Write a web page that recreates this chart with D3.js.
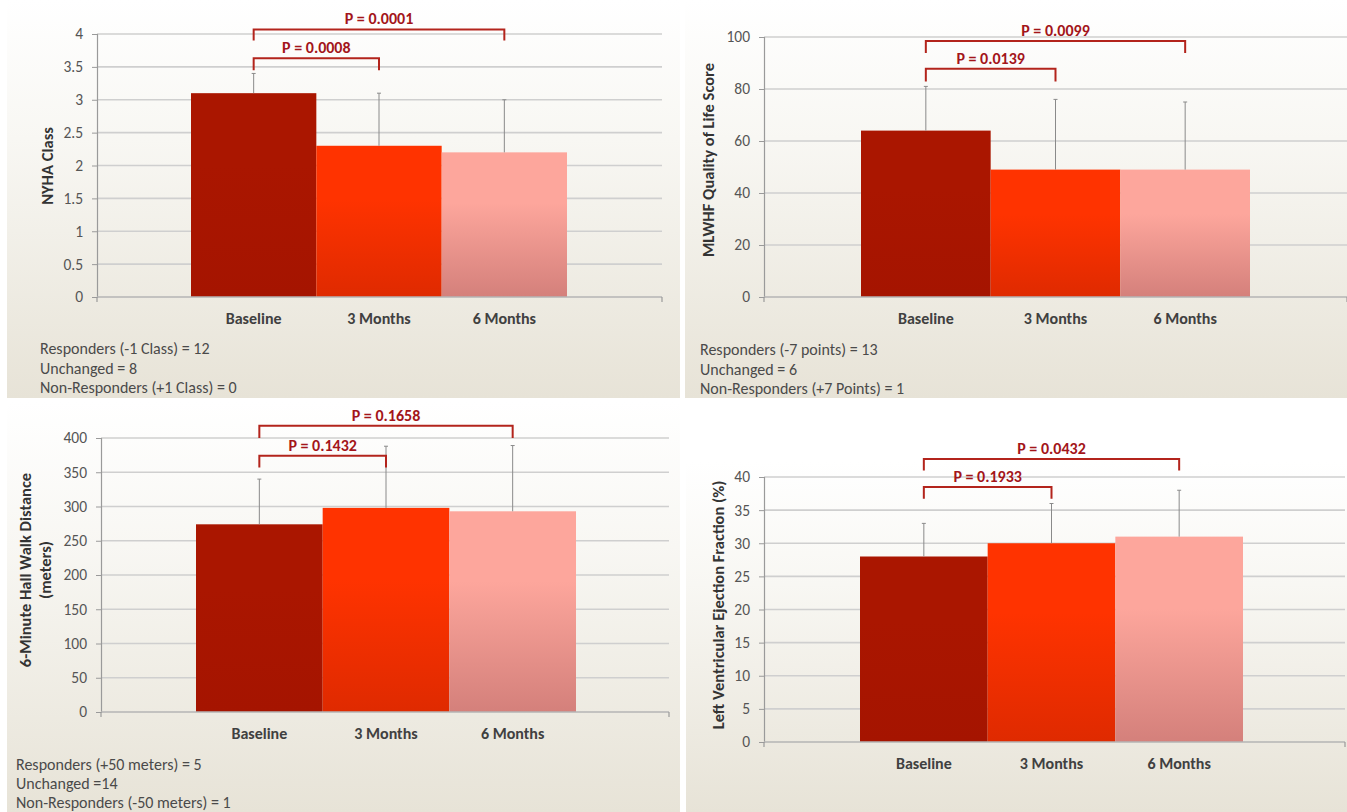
<!DOCTYPE html>
<html>
<head>
<meta charset="utf-8">
<script src="https://cdn.jsdelivr.net/npm/d3@7"></script>
<style>
  html, body { margin: 0; padding: 0; background: #ffffff; }
  svg { display: block; font-family: Carlito, Calibri, Lato, "Open Sans", sans-serif; }
</style>
</head>
<body>
<svg id="chart" width="1347" height="812"></svg>
<script>
// ---------------- DATA ----------------
const categories = ["Baseline", "3 Months", "6 Months"];

const nyhaValues = [3.1, 2.3, 2.2];
const nyhaErrorTop = [3.4, 3.1, 3.0];
const nyhaTicks = [0, 0.5, 1, 1.5, 2, 2.5, 3, 3.5, 4];
const nyhaPLabels = ["P = 0.0008", "P = 0.0001"];
const nyhaBracketLevels = [[3.45, 3.63], [3.9, 4.07]];
const nyhaNotes = ["Responders (-1 Class) = 12", "Unchanged = 8", "Non-Responders (+1 Class) = 0"];

const mlwhfValues = [64, 49, 49];
const mlwhfErrorTop = [81, 76, 75];
const mlwhfTicks = [0, 20, 40, 60, 80, 100];
const mlwhfPLabels = ["P = 0.0139", "P = 0.0099"];
const mlwhfBracketLevels = [[82.9, 87.8], [93.8, 98.5]];
const mlwhfNotes = ["Responders (-7 points) = 13", "Unchanged = 6", "Non-Responders (+7 Points) = 1"];

const walkValues = [274, 298, 293];
const walkErrorTop = [340, 388, 389];
const walkTicks = [0, 50, 100, 150, 200, 250, 300, 350, 400];
const walkPLabels = ["P = 0.1432", "P = 0.1658"];
const walkBracketLevels = [[357, 374], [400, 418]];
const walkNotes = ["Responders (+50 meters) = 5", "Unchanged =14", "Non-Responders (-50 meters) = 1"];

const lvefValues = [28, 30, 31];
const lvefErrorTop = [33, 36, 38];
const lvefTicks = [0, 5, 10, 15, 20, 25, 30, 35, 40];
const lvefPLabels = ["P = 0.1933", "P = 0.0432"];
const lvefBracketLevels = [[36.7, 38.5], [41, 42.7]];
const lvefNotes = [];

// ---------------- DRAWING ----------------
const svg = d3.select("#chart");
const defs = svg.append("defs");

const bg = defs.append("linearGradient").attr("id", "bgGrad")
  .attr("x1", 0).attr("y1", 0).attr("x2", 0).attr("y2", 1);
bg.append("stop").attr("offset", "0%").attr("stop-color", "#ffffff");
bg.append("stop").attr("offset", "35%").attr("stop-color", "#f8f7f3");
bg.append("stop").attr("offset", "100%").attr("stop-color", "#e7e3d7");

const barGrads = [
  ["#aa1600", "#a51400"],
  ["#ff3300", "#df2a00"],
  ["#fda69c", "#d4807b"]
];
barGrads.forEach((c, i) => {
  const g = defs.append("linearGradient").attr("id", "barGrad" + i)
    .attr("x1", 0).attr("y1", 0).attr("x2", 0).attr("y2", 1);
  g.append("stop").attr("offset", "0%").attr("stop-color", c[0]);
  g.append("stop").attr("offset", "35%").attr("stop-color", c[0]);
  g.append("stop").attr("offset", "100%").attr("stop-color", c[1]);
});

function drawPanel(cfg) {
  const g = svg.append("g");
  g.append("rect").attr("x", cfg.bg[0]).attr("y", cfg.bg[1])
    .attr("width", cfg.bg[2]).attr("height", cfg.bg[3]).attr("fill", "url(#bgGrad)");

  const y = d3.scaleLinear().domain([0, d3.max(cfg.ticks)]).range([cfg.y0, cfg.yTop]);
  const x = d3.scaleBand().domain(categories).range([cfg.barStart, cfg.barEnd]).paddingInner(0).paddingOuter(0);

  // gridlines
  g.append("g").selectAll("line").data(cfg.ticks.filter(t => t !== 0)).join("line")
    .attr("x1", cfg.axisX).attr("x2", cfg.gridEnd)
    .attr("y1", d => y(d)).attr("y2", d => y(d))
    .attr("stroke", "#cfcfcf").attr("stroke-width", 1.6);

  // y axis
  const yAxis = d3.axisLeft(y).tickValues(cfg.ticks).tickSize(5).tickPadding(9)
    .tickFormat(d => String(d));
  const ya = g.append("g").attr("transform", `translate(${cfg.axisX},0)`).call(yAxis);
  ya.select(".domain").attr("stroke", "#9a9a9a").attr("stroke-width", 1.2);
  ya.selectAll(".tick line").attr("stroke", "#9a9a9a");
  ya.selectAll(".tick text").attr("fill", "#555555")
    .style("font-size", "15.5px").style("font-family", "Carlito, Calibri, Lato, sans-serif");

  // bars
  g.append("g").selectAll("rect").data(cfg.values).join("rect")
    .attr("x", (d, i) => x(categories[i]))
    .attr("width", x.bandwidth())
    .attr("y", d => y(d))
    .attr("height", d => cfg.y0 - y(d))
    .attr("fill", (d, i) => `url(#barGrad${i})`);

  // x axis line
  g.append("line").attr("x1", cfg.axisX).attr("x2", cfg.gridEnd)
    .attr("y1", cfg.y0).attr("y2", cfg.y0)
    .attr("stroke", "#b5b5b5").attr("stroke-width", 1.6);
  [cfg.axisX, cfg.gridEnd].forEach(px => {
    g.append("line").attr("x1", px).attr("x2", px).attr("y1", cfg.y0).attr("y2", cfg.y0 + 5)
      .attr("stroke", "#9a9a9a").attr("stroke-width", 1.2);
  });

  // error bars
  const eb = g.append("g");
  cfg.errTop.forEach((e, i) => {
    const cx = x(categories[i]) + x.bandwidth() / 2;
    eb.append("line").attr("x1", cx).attr("x2", cx).attr("y1", y(cfg.values[i])).attr("y2", y(e))
      .attr("stroke", "#8a8a8a").attr("stroke-width", 1);
    eb.append("line").attr("x1", cx - 2).attr("x2", cx + 2).attr("y1", y(e)).attr("y2", y(e))
      .attr("stroke", "#8a8a8a").attr("stroke-width", 1);
  });

  // x labels
  g.append("g").selectAll("text").data(categories).join("text")
    .attr("x", d => x(d) + x.bandwidth() / 2)
    .attr("y", cfg.labelY)
    .attr("text-anchor", "middle")
    .attr("fill", "#404040").style("font-size", "16px").style("font-weight", "bold")
    .text(d => d);

  // brackets
  cfg.pLabels.forEach((lab, k) => {
    const x1 = x(categories[0]) + x.bandwidth() / 2;
    const x2 = x(categories[k + 1]) + x.bandwidth() / 2;
    const lv = cfg.brackets[k];
    const yb = y(lv[0]), yt = y(lv[1]);
    g.append("path")
      .attr("d", `M${x1},${yb}V${yt}H${x2}V${yb}`)
      .attr("fill", "none").attr("stroke", "#b3241c").attr("stroke-width", 2);
    g.append("text").attr("x", (x1 + x2) / 2).attr("y", yt - 5)
      .attr("text-anchor", "middle").attr("fill", "#a3151a")
      .style("font-size", "16px").style("font-weight", "bold").text(lab);
  });

  // y title
  const tg = g.append("text")
    .attr("transform", `translate(${cfg.titleX},${cfg.titleY}) rotate(-90)`)
    .attr("text-anchor", "middle").attr("fill", "#333333")
    .style("font-size", "16.5px").style("font-weight", "bold");
  cfg.title.forEach((t, i) => {
    tg.append("tspan").attr("x", 0).attr("dy", i === 0 ? 0 : 20).text(t);
  });

  // notes
  g.append("g").selectAll("text").data(cfg.notes).join("text")
    .attr("x", cfg.notesX).attr("y", (d, i) => cfg.notesY + i * cfg.notesGap)
    .attr("fill", "#4a4a4a").style("font-size", "16px").text(d => d);
}

drawPanel({
  bg: [7, 0, 673, 398],
  values: nyhaValues, errTop: nyhaErrorTop, ticks: nyhaTicks,
  pLabels: nyhaPLabels, brackets: nyhaBracketLevels, notes: nyhaNotes,
  y0: 297, yTop: 34, axisX: 97, gridEnd: 662, barStart: 191, barEnd: 567,
  labelY: 324, titleX: 52.5, titleY: 166, title: ["NYHA Class"],
  notesX: 40, notesY: 354, notesGap: 19.5
});

drawPanel({
  bg: [685, 0, 662, 398],
  values: mlwhfValues, errTop: mlwhfErrorTop, ticks: mlwhfTicks,
  pLabels: mlwhfPLabels, brackets: mlwhfBracketLevels, notes: mlwhfNotes,
  y0: 297, yTop: 37, axisX: 764, gridEnd: 1347, barStart: 861, barEnd: 1250,
  labelY: 324, titleX: 713.5, titleY: 160, title: ["MLWHF Quality of Life Score"],
  notesX: 700, notesY: 355, notesGap: 19.5
});

drawPanel({
  bg: [7, 402, 673, 410],
  values: walkValues, errTop: walkErrorTop, ticks: walkTicks,
  pLabels: walkPLabels, brackets: walkBracketLevels, notes: walkNotes,
  y0: 712, yTop: 438, axisX: 101, gridEnd: 669, barStart: 196, barEnd: 576,
  labelY: 739, titleX: 30.5, titleY: 570, title: ["6-Minute Hall Walk Distance", "(meters)"],
  notesX: 16, notesY: 770, notesGap: 19
});

drawPanel({
  bg: [686, 462, 661, 350],
  values: lvefValues, errTop: lvefErrorTop, ticks: lvefTicks,
  pLabels: lvefPLabels, brackets: lvefBracketLevels, notes: lvefNotes,
  y0: 742, yTop: 477, axisX: 764, gridEnd: 1345, barStart: 860, barEnd: 1243,
  labelY: 769, titleX: 723.5, titleY: 605, title: ["Left  Ventricular Ejection Fraction (%)"],
  notesX: 700, notesY: 790, notesGap: 19
});
</script>
</body>
</html>
